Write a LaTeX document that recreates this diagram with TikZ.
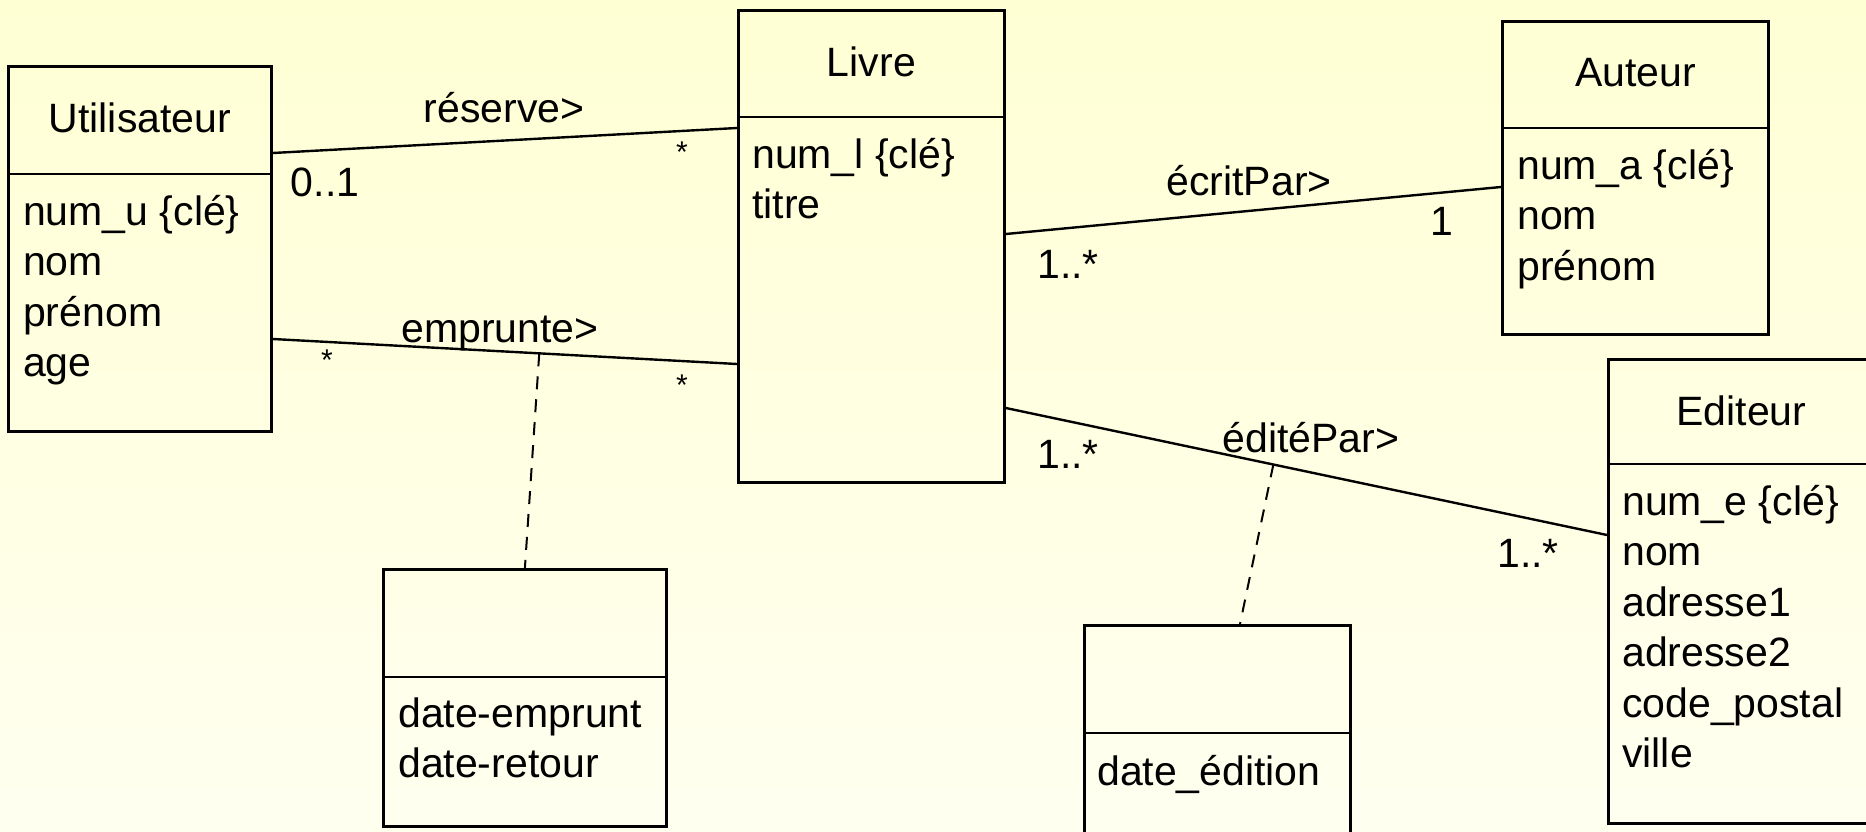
\documentclass[tikz,border=0pt]{standalone}
\usepackage{fontspec}
\setmainfont{Liberation Sans}
\usetikzlibrary{calc}
\definecolor{bgtop}{RGB}{255,255,212}
\definecolor{bgbot}{RGB}{255,255,240}
\tikzstyle{classbox}=[draw,line width=2.8pt,rectangle,inner sep=0pt,anchor=north west]
\tikzstyle{classname}=[inner sep=0pt,anchor=base]
\tikzstyle{attr}=[inner sep=0pt,anchor=base west]
\tikzstyle{mult}=[inner sep=0pt,anchor=base]
\tikzstyle{star}=[inner sep=0pt,anchor=base,font=\fontsize{30}{30}\selectfont]
\tikzstyle{assoc}=[line width=2.4pt]
\tikzstyle{assocdash}=[line width=2pt,dash pattern=on 13pt off 10pt]
\newcommand{\rowskip}{50.5}

\begin{document}
\begin{tikzpicture}[x=1pt,y=-1pt,font=\fontsize{41}{50.5}\selectfont]
    \shade[top color=bgtop,bottom color=bgbot] (0,0) rectangle (1866,832);
    \useasboundingbox (0,0) rectangle (1866,832);
    \clip (0,0) rectangle (1866,832);

% classes
    \node[classbox,minimum width=263pt,minimum height=365pt] (util) at (7,65) {};
    \node[classname] (util-t) at ($(util.north)+(0,67)$) {Utilisateur};
    \draw[line width=2.8pt] (util.west |- 0,174) -- (util.east |- 0,174);
    \foreach \a [count=\i from 0] in {{num\_u \{clé\}},nom,prénom,age}
        \node[attr] (util-a\i) at ($(util.west |- 0,174)+(16,51+\i*\rowskip)$) {\a};

    \node[classbox,minimum width=266pt,minimum height=472pt] (livre) at (737,9) {};
    \node[classname] (livre-t) at ($(livre.north)+(0,68)$) {Livre};
    \draw[line width=2.8pt] (livre.west |- 0,117) -- (livre.east |- 0,117);
    \foreach \a [count=\i from 0] in {{num\_l \{clé\}},titre}
        \node[attr] (livre-a\i) at ($(livre.west |- 0,117)+(15,51+\i*\rowskip)$) {\a};

    \node[classbox,minimum width=266pt,minimum height=313pt] (auteur) at (1501,20) {};
    \node[classname] (auteur-t) at ($(auteur.north)+(0,67)$) {Auteur};
    \draw[line width=2.8pt] (auteur.west |- 0,128) -- (auteur.east |- 0,128);
    \foreach \a [count=\i from 0] in {{num\_a \{clé\}},nom,prénom}
        \node[attr] (auteur-a\i) at ($(auteur.west |- 0,128)+(16,51+\i*\rowskip)$) {\a};

    \node[classbox,minimum width=266pt,minimum height=464pt] (editeur) at (1607,358) {};
    \node[classname] (editeur-t) at ($(editeur.north)+(0,67)$) {Editeur};
    \draw[line width=2.8pt] (editeur.west |- 0,464) -- (editeur.east |- 0,464);
    \foreach \a [count=\i from 0] in {{num\_e \{clé\}},nom,adresse1,adresse2,code\_postal,ville}
        \node[attr] (editeur-a\i) at ($(editeur.west |- 0,464)+(15,51+\i*\rowskip)$) {\a};

% association classes
    \node[classbox,minimum width=283pt,minimum height=257pt] (emprunt) at (382,568) {};
    \draw[line width=2.8pt] (emprunt.west |- 0,677) -- (emprunt.east |- 0,677);
    \foreach \a [count=\i from 0] in {date-emprunt,date-retour}
        \node[attr] (emprunt-a\i) at ($(emprunt.west |- 0,677)+(16,50+\i*\rowskip)$) {\a};

    \node[classbox,minimum width=266pt,minimum height=240pt] (edition) at (1083,624) {};
    \draw[line width=2.8pt] (edition.west |- 0,733) -- (edition.east |- 0,733);
    \node[attr] (edition-a0) at ($(edition.west |- 0,733)+(14,52)$) {date\_édition};

% associations
    \coordinate (util-r1) at (util.east |- 0,153);
    \coordinate (livre-l1) at (livre.west |- 0,128);
    \coordinate (util-r2) at (util.east |- 0,339);
    \coordinate (livre-l2) at (livre.west |- 0,364);
    \coordinate (livre-r1) at (livre.east |- 0,234);
    \coordinate (auteur-l1) at (auteur.west |- 0,187);
    \coordinate (livre-r2) at (livre.east |- 0,408);
    \coordinate (editeur-l1) at (editeur.west |- 0,535);
    \coordinate (edition-top) at (edition.north -| 1240,0);

    \draw[assoc] (util-r1) -- (livre-l1);
    \draw[assoc] (util-r2) -- coordinate[pos=0.574] (emprunte-m) (livre-l2);
    \draw[assoc] (livre-r1) -- (auteur-l1);
    \draw[assoc] (livre-r2) -- coordinate[pos=0.445] (editepar-m) (editeur-l1);
    \draw[assocdash] (emprunte-m) -- (emprunt.north);
    \draw[assocdash] (editepar-m) -- (edition-top);

% labels and multiplicities
    \node[mult] (reserve-lab) at (504,123) {réserve>};
    \node[mult] (reserve-u) at (325,196) {0..1};
    \node[star] (reserve-l) at (682,163) {*};
    \node[mult] (emprunte-lab) at (500,342) {emprunte>};
    \node[star] (emprunte-u) at (327,370) {*};
    \node[star] (emprunte-l) at (682,395) {*};
    \node[mult] (ecritpar-lab) at (1249,195) {écritPar>};
    \node[mult] (ecritpar-l) at (1068,278) {1..*};
    \node[mult] (ecritpar-a) at (1442,235) {1};
    \node[mult] (editepar-lab) at (1311,452) {éditéPar>};
    \node[mult] (editepar-l) at (1068,468) {1..*};
    \node[mult] (editepar-e) at (1528,567) {1..*};
\end{tikzpicture}
\end{document}
